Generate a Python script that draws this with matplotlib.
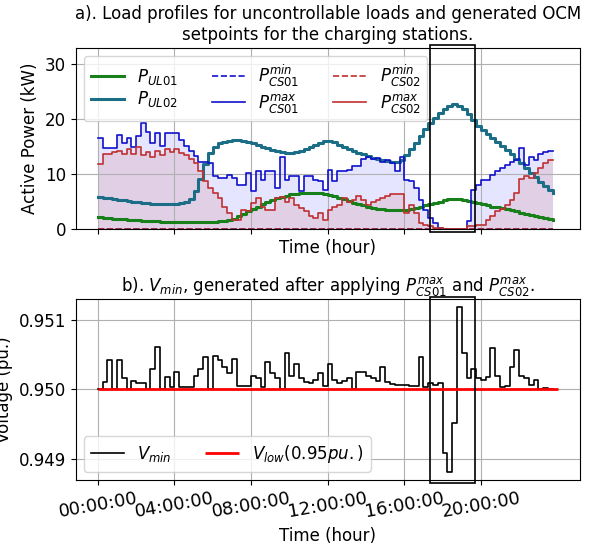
import numpy as np
import matplotlib
matplotlib.use("Agg")
import matplotlib.pyplot as plt
from matplotlib.patches import Rectangle
from matplotlib.ticker import MultipleLocator, FormatStrFormatter

plt.rcParams["font.family"] = ["DejaVu Sans"]
plt.rcParams["font.size"] = 12

# 15-minute resolution over one day (hours)
STEP_H = 0.25
N = 96
tick_hours = [0, 4, 8, 12, 16, 20]
tick_labels = ["00:00:00", "04:00:00", "08:00:00", "12:00:00", "16:00:00", "20:00:00"]

# Uncontrollable load profiles (kW)
p_ul01 = [2.1, 2.0, 1.95, 1.9, 1.8, 1.75, 1.7, 1.65, 1.55, 1.5, 1.45, 1.4,
          1.4, 1.35, 1.35, 1.3, 1.3, 1.3, 1.3, 1.3, 1.3, 1.3, 1.3, 1.35,
          1.35, 1.4, 1.45, 1.6, 1.9, 2.3, 2.7, 3.2, 3.7, 4.1, 4.5, 4.9,
          5.3, 5.6, 5.9, 6.1, 6.3, 6.4, 6.5, 6.6, 6.6, 6.6, 6.5, 6.4,
          6.2, 6.0, 5.7, 5.4, 5.1, 4.8, 4.5, 4.3, 4.1, 3.9, 3.7, 3.6,
          3.5, 3.4, 3.4, 3.4, 3.5, 3.6, 3.8, 4.0, 4.3, 4.5, 4.8, 5.0,
          5.3, 5.4, 5.5, 5.5, 5.3, 5.1, 4.9, 4.7, 4.5, 4.3, 4.1, 4.0,
          3.8, 3.6, 3.4, 3.2, 3.0, 2.8, 2.6, 2.4, 2.2, 2.0, 1.85, 1.7]

p_ul02 = [5.8, 5.7, 5.6, 5.5, 5.35, 5.2, 5.1, 5.0, 4.9, 4.8, 4.7, 4.6,
          4.55, 4.5, 4.5, 4.5, 4.55, 4.65, 5.0, 5.5, 7.0, 9.2, 11.8, 13.8,
          15.0, 15.6, 15.9, 16.1, 16.2, 16.2, 16.1, 15.9, 15.6, 15.3, 15.0, 14.7,
          14.4, 14.2, 14.0, 13.9, 13.9, 14.0, 14.2, 14.5, 14.9, 15.3, 15.7, 16.0,
          16.0, 15.8, 15.4, 15.0, 14.6, 14.2, 13.9, 13.6, 13.3, 13.0, 12.8, 12.6,
          12.4, 12.3, 12.3, 12.6, 13.4, 14.5, 15.7, 17.0, 18.2, 19.3, 20.3, 21.2,
          21.9, 22.4, 22.7, 22.5, 21.9, 21.0, 19.9, 18.8, 18.0, 17.3, 16.6, 15.9,
          15.2, 14.4, 13.6, 12.8, 12.0, 11.1, 10.2, 9.4, 8.6, 7.9, 7.2, 6.6]

# OCM setpoints for the charging stations (kW)
p_cs01_min = [0.0] * N
p_cs01_max = [16.6, 14.8, 14.8, 14.8, 17.2, 15.7, 16.6, 14.9, 17.0, 19.4, 17.6, 15.6,
              17.5, 15.2, 17.5, 17.5, 17.5, 16.3, 15.2, 14.3, 13.3, 12.3, 12.3, 12.0,
              9.6, 9.3, 9.3, 9.9, 9.3, 8.1, 8.1, 10.2, 6.9, 10.5, 9.0, 10.5,
              10.5, 7.5, 13.2, 9.0, 9.6, 9.6, 6.9, 9.6, 9.6, 9.0, 8.7, 7.2,
              10.8, 8.7, 10.5, 10.5, 10.8, 11.4, 11.4, 12.7, 13.2, 12.7, 13.0, 12.2,
              12.5, 12.0, 10.5, 13.2, 9.0, 8.7, 7.5, 5.3, 3.5, 2.0, 1.1, 0.2,
              0.0, 0.0, 0.0, 0.0, 0.0, 1.5, 7.2, 8.1, 9.0, 9.0, 9.9, 10.5,
              11.1, 11.7, 12.3, 12.5, 14.8, 11.7, 13.2, 12.6, 13.7, 14.0, 14.3, 14.3]

p_cs02_min = [0.0] * N
p_cs02_max = [11.8, 13.7, 13.7, 14.0, 14.2, 13.7, 14.5, 13.6, 15.0, 13.5, 14.0, 13.2,
              14.3, 13.4, 14.6, 14.0, 14.5, 13.8, 13.5, 12.8, 12.0, 10.6, 8.8, 7.4,
              6.5, 5.6, 4.1, 2.9, 1.7, 1.7, 3.5, 3.2, 4.7, 5.6, 4.1, 3.5,
              3.5, 5.6, 5.9, 5.0, 5.6, 4.4, 3.8, 3.2, 2.4, 2.0, 2.9, 1.7,
              3.5, 4.1, 4.4, 5.6, 5.0, 5.3, 6.0, 5.3, 4.4, 5.0, 5.3, 5.6,
              6.1, 6.3, 6.4, 6.4, 2.9, 4.4, 2.9, 1.1, 0.8, 0.5, 0.2, 0.2,
              0.0, 0.0, 0.0, 0.0, 0.0, 0.5, 0.5, 0.8, 0.8, 1.7, 2.3, 3.2,
              3.6, 4.4, 5.3, 6.5, 9.2, 9.6, 9.3, 10.2, 11.1, 12.0, 12.6, 12.6]

# Minimum network voltage (deviation from 0.95 pu, in 1e-3 pu)
v_min_dev = [0.01, 0.11, 0.42, 0.01, 0.43, 0.16, 0.01, 0.12, 0.09, 0.09, 0.01, 0.30,
             0.61, 0.01, 0.18, 0.03, 0.25, 0.04, 0.04, 0.04, 0.20, 0.30, 0.47, 0.01,
             0.48, 0.42, 0.32, 0.23, 0.44, 0.05, 0.05, 0.05, 0.20, 0.16, 0.03, 0.40,
             0.23, 0.16, 0.01, 0.52, 0.20, 0.36, 0.16, 0.11, 0.09, 0.13, 0.24, 0.05,
             0.36, 0.13, 0.09, 0.12, 0.16, 0.01, 0.25, 0.25, 0.20, 0.16, 0.12, 0.32,
             0.11, 0.08, 0.06, 0.06, 0.06, 0.05, 0.05, 0.47, 0.04, 0.10, 0.06, 0.10,
             -0.91, -1.18, -0.48, 1.18, 0.52, 0.16, 0.30, 0.16, 0.13, 0.18, 0.60, 0.20,
             0.04, 0.05, 0.32, 0.57, 0.20, 0.16, 0.06, 0.13, 0.01, 0.02, 0.01, 0.01]
V_LOW = 0.95

# Highlighted time window (hours)
win_start, win_end = 17.35, 19.7

t = np.arange(N) * STEP_H
v_min = V_LOW + np.array(v_min_dev) * 1e-3

fig = plt.figure(figsize=(5.92, 5.51), dpi=100)
ax1 = fig.add_axes([0.128, 0.5844, 0.851, 0.3285])
ax2 = fig.add_axes([0.128, 0.1289, 0.851, 0.3285], sharex=ax1)

c_blue = "#1010cc"
c_red = "#c03030"

# --- a) load profiles and setpoints
ax1.fill_between(t, p_cs01_min, p_cs01_max, step="post", color="blue", alpha=0.1, lw=0)
ax1.fill_between(t, p_cs02_min, p_cs02_max, step="post", color=c_red, alpha=0.12, lw=0)
ax1.step(t, p_ul01, where="post", color="#17801a", lw=2.2, label=r"$P_{UL01}$")
ax1.step(t, p_ul02, where="post", color="#1b6e86", lw=2.2, label=r"$P_{UL02}$")
ax1.step(t, p_cs01_min, where="post", color=c_blue, lw=1.2, ls="--", label=r"$P_{CS01}^{min}$")
ax1.step(t, p_cs01_max, where="post", color=c_blue, lw=1.2, label=r"$P_{CS01}^{max}$")
ax1.step(t, p_cs02_min, where="post", color=c_red, lw=1.2, ls="--", label=r"$P_{CS02}^{min}$")
ax1.step(t, p_cs02_max, where="post", color=c_red, lw=1.2, label=r"$P_{CS02}^{max}$")

ax1.set_ylim(0, 33)
ax1.set_yticks([0, 10, 20, 30])
ax1.set_ylabel("Active Power (kW)")
ax1.set_xlabel("Time (hour)")
ax1.grid(True)
ax1.tick_params(axis="x", labelbottom=False)
ax1.set_title("a). Load profiles for uncontrollable loads and generated OCM\n"
              "setpoints for the charging stations.", fontsize=12)
ax1.legend(ncol=3, loc="upper left", fontsize=12, labelspacing=0.15)
ax1.add_patch(Rectangle((win_start, -0.5), win_end - win_start, 34.1,
                        fill=False, ec="black", lw=1.2, clip_on=False, zorder=5))

# --- b) minimum voltage
ax2.step(t, v_min, where="post", color="black", lw=1.2, label=r"$V_{min}$")
ax2.hlines(V_LOW, t[0], t[-1] + STEP_H, color="red", lw=2, label=r"$V_{low}(0.95pu.)$")
ax2.set_ylim(0.94870, 0.95130)
ax2.yaxis.set_major_locator(MultipleLocator(0.001))
ax2.yaxis.set_major_formatter(FormatStrFormatter("%.3f"))
ax2.set_ylabel("Voltage (pu.)")
ax2.set_xlabel("Time (hour)")
ax2.grid(True)
ax2.set_title(r"b). $V_{min}$, generated after applying $P_{CS01}^{max}$ and $P_{CS02}^{max}$.",
              fontsize=12)
ax2.legend(ncol=2, loc="lower left", fontsize=12)
ax2.add_patch(Rectangle((win_start, 0.948661), win_end - win_start, 0.951333 - 0.948661,
                        fill=False, ec="black", lw=1.2, clip_on=False, zorder=5))

ax2.set_xlim(-1.15, 25.15)
ax2.set_xticks(tick_hours)
ax2.set_xticklabels(tick_labels, rotation=10, fontsize=13)

fig.savefig("out.png", dpi=100)
